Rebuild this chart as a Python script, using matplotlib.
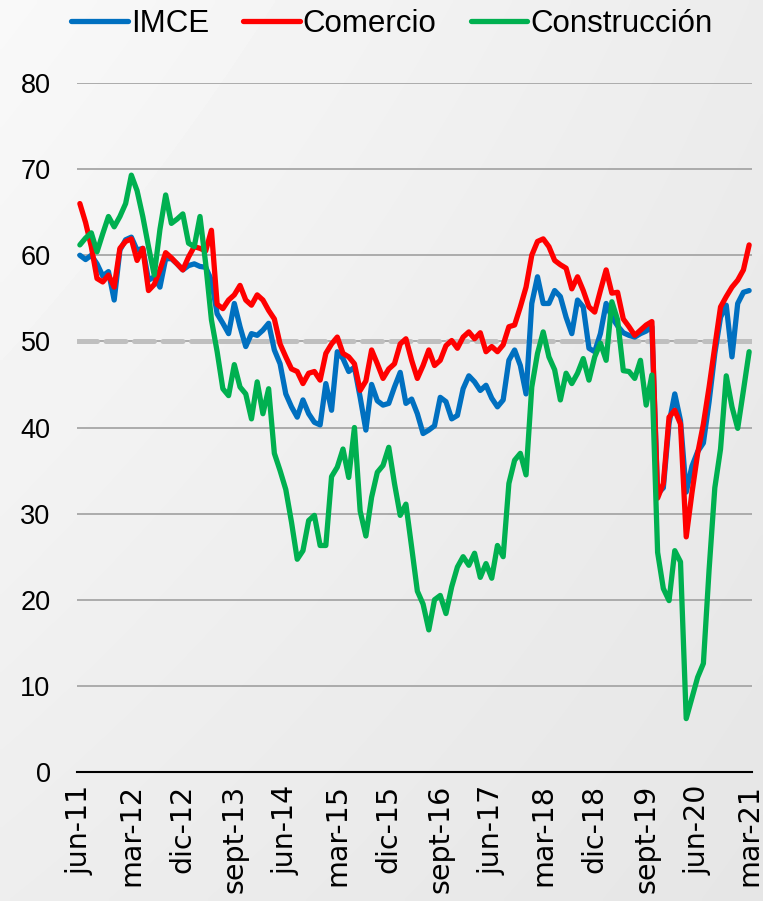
import numpy as np
import matplotlib
matplotlib.use("Agg")
import matplotlib.pyplot as plt
from matplotlib.lines import Line2D
from matplotlib import font_manager

plt.rcParams['font.family'] = ['Liberation Sans', 'DejaVu Sans']

# Monthly indices, jun-11 .. mar-21
series_names = ["IMCE", "Comercio", "Construcción"]

imce = [60.0, 59.5, 60.0, 59.0, 57.6, 58.1, 54.8, 60.6, 61.8, 62.1,
        60.6, 60.8, 57.1, 57.5, 56.3, 59.6, 59.6, 59.0, 58.3, 58.8,
        59.0, 58.7, 58.6, 57.1, 53.2, 52.1, 50.9, 54.4, 51.7, 49.4,
        50.9, 50.7, 51.3, 52.1, 49.0, 47.4, 43.9, 42.4, 41.2, 43.2,
        41.6, 40.6, 40.3, 45.1, 42.0, 48.8, 48.0, 46.5, 47.0, 43.5,
        39.7, 45.0, 43.1, 42.6, 42.8, 44.7, 46.4, 42.8, 43.3, 41.6,
        39.3, 39.7, 40.2, 43.5, 43.0, 41.0, 41.4, 44.5, 46.0, 45.3,
        44.3, 44.9, 43.4, 42.4, 43.2, 47.8, 49.0, 47.2, 43.9, 54.4,
        57.5, 54.4, 54.4, 55.9, 55.2, 52.8, 50.9, 54.8, 54.0, 49.2,
        48.8, 50.9, 54.4, 52.8, 51.8, 51.0, 50.7, 50.5, 50.9, 51.2,
        51.7, 32.3, 33.0, 40.5, 43.9, 40.8, 32.5, 35.5, 37.2, 38.2,
        43.0, 48.6, 52.8, 54.2, 48.2, 54.4, 55.7, 55.9]

comercio = [66.0, 63.8, 61.0, 57.3, 56.9, 57.7, 56.3, 60.8, 61.6, 61.9,
            59.4, 60.8, 55.9, 56.6, 58.3, 60.3, 59.7, 59.0, 58.3, 59.8,
            61.0, 60.8, 60.5, 62.9, 54.3, 53.8, 54.8, 55.4, 56.5, 54.8,
            54.2, 55.4, 54.8, 53.6, 52.6, 49.7, 48.2, 46.8, 46.5, 45.1,
            46.3, 46.5, 45.5, 48.6, 49.7, 50.5, 48.6, 48.2, 47.4, 44.3,
            45.4, 49.0, 47.4, 45.7, 46.8, 47.4, 49.7, 50.3, 47.8, 45.7,
            47.2, 49.0, 47.2, 47.8, 49.5, 50.1, 49.2, 50.5, 51.1, 50.3,
            51.0, 48.8, 49.4, 48.8, 49.6, 51.7, 51.9, 54.0, 56.3, 60.0,
            61.6, 61.9, 61.0, 59.4, 58.9, 58.5, 56.1, 57.5, 55.9, 54.0,
            53.4, 55.9, 58.3, 55.6, 55.7, 52.6, 51.7, 50.7, 51.3, 51.9,
            52.3, 31.8, 33.5, 41.2, 42.0, 40.4, 27.3, 32.4, 37.0, 40.4,
            44.7, 49.4, 54.0, 55.2, 56.3, 57.1, 58.3, 61.2]

construccion = [61.2, 62.0, 62.6, 60.4, 62.5, 64.5, 63.3, 64.5, 66.0, 69.3,
                67.5, 64.5, 61.0, 57.7, 63.0, 67.0, 63.7, 64.2, 64.8, 61.4,
                61.0, 64.5, 59.0, 52.5, 48.8, 44.5, 43.7, 47.3, 44.7, 43.9,
                41.0, 45.3, 41.6, 44.5, 37.0, 35.0, 32.8, 29.0, 24.7, 25.7,
                29.2, 29.8, 26.3, 26.3, 34.3, 35.4, 37.5, 34.2, 40.0, 30.3,
                27.4, 31.9, 34.8, 35.6, 37.7, 33.5, 29.8, 31.1, 26.1, 21.0,
                19.5, 16.5, 20.0, 20.5, 18.4, 21.5, 23.8, 25.0, 24.0, 25.4,
                22.6, 24.2, 22.5, 26.3, 25.0, 33.5, 36.2, 37.0, 34.5, 44.7,
                48.6, 51.1, 48.2, 46.7, 43.2, 46.3, 45.1, 46.3, 48.0, 45.5,
                48.2, 49.8, 47.8, 54.6, 52.5, 46.6, 46.5, 45.7, 47.8, 42.6,
                46.1, 25.5, 21.3, 19.9, 25.7, 24.4, 6.2, 8.6, 11.0, 12.6,
                23.5, 33.0, 37.5, 46.0, 42.4, 39.9, 44.3, 48.8]

tick_labels = ["jun-11", "mar-12", "dic-12", "sept-13", "jun-14", "mar-15",
               "dic-15", "sept-16", "jun-17", "mar-18", "dic-18", "sept-19",
               "jun-20", "mar-21"]
tick_step = 9
neutral_level = 50

colors = ["#0070C0", "#FF0000", "#00B050"]

# condensed face for the horizontal texts when it is installed
installed = {f.name for f in font_manager.fontManager.ttflist}
if "Liberation Sans Narrow" in installed:
    narrow_family = ["Liberation Sans Narrow", "DejaVu Sans"]
    legend_size, ylab_size = 26.5, 23
else:
    narrow_family = ["Liberation Sans", "DejaVu Sans"]
    legend_size, ylab_size = 22.5, 19.5

W, H, DPI = 763, 901, 100
fig = plt.figure(figsize=(W / DPI, H / DPI), dpi=DPI)

# soft grey backdrop
bg = fig.add_axes([0, 0, 1, 1], zorder=-10)
yy, xx = np.mgrid[0:1:200j, 0:1:200j]
shade = 0.975 - 0.05 * xx - 0.045 * yy + 0.02 * xx * yy
bg.imshow(shade, cmap="gray", vmin=0, vmax=1, aspect="auto",
          extent=[0, 1, 0, 1], origin="upper", interpolation="bilinear")
bg.set_axis_off()

ax = fig.add_axes([77 / W, 129 / H, 675 / W, 689 / H])
ax.patch.set_alpha(0)

n = len(imce)
x = np.arange(n)

ax.set_xlim(-0.5, n - 0.5)
ax.set_ylim(0, 80)
ax.set_yticks(np.arange(0, 81, 10))
for v in range(10, 81, 10):
    ax.axhline(v, color="#A6A6A6", lw=1.3, zorder=1)

ax.axhline(neutral_level, color="#BFBFBF", lw=3.6, zorder=2,
           dashes=(4.0, 1.7), dash_capstyle="round")

for vals, col, name in zip([imce, comercio, construccion], colors, series_names):
    ax.plot(x, vals, color=col, lw=3.8, solid_joinstyle="round",
            solid_capstyle="round", zorder=3, label=name)

for side in ["top", "right", "left"]:
    ax.spines[side].set_visible(False)
ax.spines["bottom"].set_color("black")
ax.spines["bottom"].set_linewidth(1.5)

ax.set_xticks(np.arange(0, n, tick_step))
ax.set_xticklabels(tick_labels, rotation=90, fontsize=20.5,
                   family=["DejaVu Sans"])
ax.tick_params(axis="x", length=0, pad=9)
ax.tick_params(axis="y", length=0, pad=19)
for lab in ax.get_yticklabels():
    lab.set_fontfamily(narrow_family)
    lab.set_fontsize(ylab_size)

handles = [Line2D([0], [0], color=c, lw=3.8, solid_capstyle="round") for c in colors]
fig.legend(handles, series_names, loc="center", ncol=3, frameon=False,
           bbox_to_anchor=(392 / W, 1 - 24 / H),
           prop={"family": narrow_family, "size": legend_size},
           handlelength=1.8 * 22.5 / legend_size,
           handletextpad=0.1, columnspacing=1.1 * 22.5 / legend_size,
           borderaxespad=0)

fig.savefig("out.png", dpi=DPI)
